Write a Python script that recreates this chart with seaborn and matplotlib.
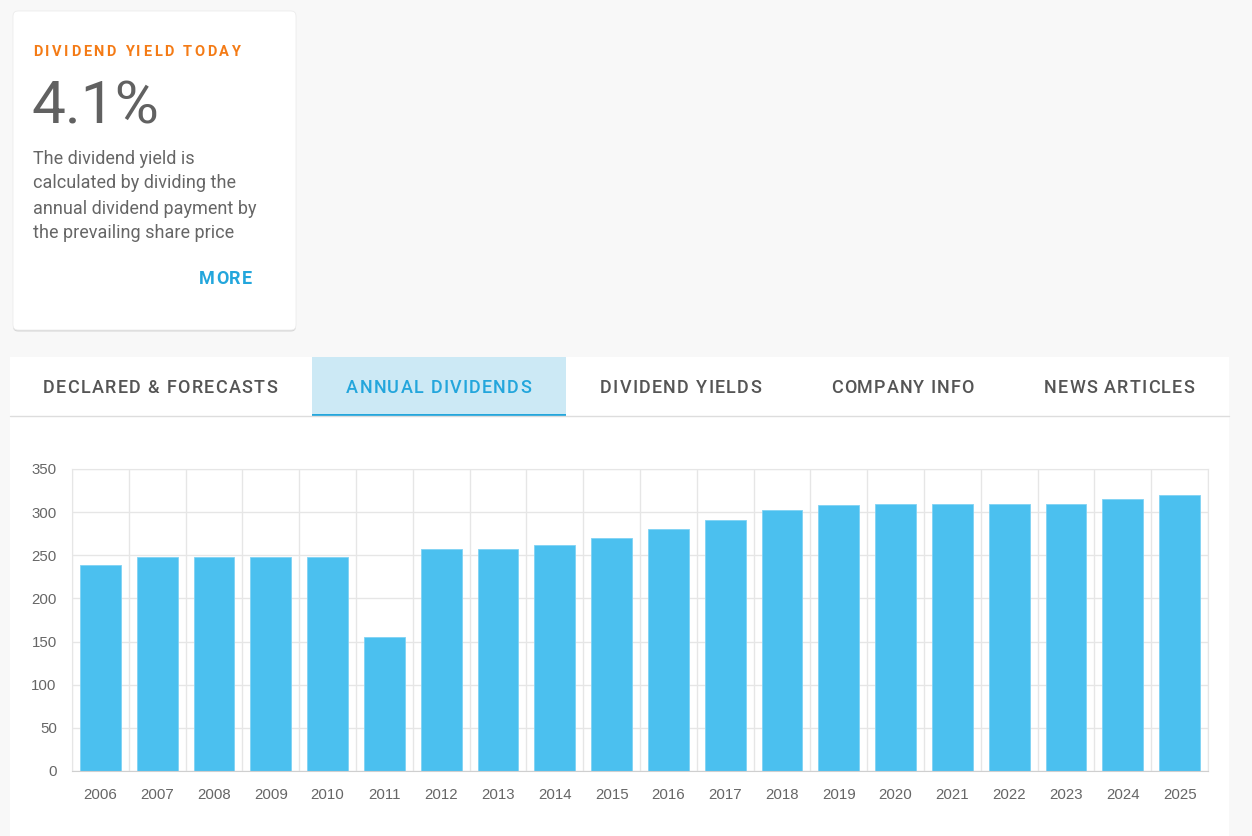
import numpy as np
import seaborn as sns
import matplotlib.pyplot as plt
import pandas as pd
from matplotlib.patches import FancyBboxPatch, Rectangle

# data
years = [str(y) for y in range(2006, 2026)]
dividends = [239, 248, 248, 248, 248, 155, 257, 257, 262, 270,
             280, 291, 302, 308, 310, 310, 310, 310, 315, 320]
y_ticks = [0, 50, 100, 150, 200, 250, 300, 350]

tab_labels = ['DECLARED & FORECASTS', 'ANNUAL DIVIDENDS', 'DIVIDEND YIELDS',
              'COMPANY INFO', 'NEWS ARTICLES']
card_title = 'DIVIDEND YIELD TODAY'
card_value = '4.1%'
card_lines = ['The dividend yield is', 'calculated by dividing the',
              'annual dividend payment by', 'the prevailing share price']

sns.set_style('white')
plt.rcParams['font.family'] = ['Liberation Sans', 'DejaVu Sans']

W, H = 1252, 836
fig = plt.figure(figsize=(W / 100, H / 100), dpi=100)
fig.patch.set_facecolor('#f8f8f8')

# page layer in pixel coords
bg = fig.add_axes([0, 0, 1, 1], zorder=0)
bg.set_xlim(0, W)
bg.set_ylim(H, 0)
bg.axis('off')
renderer = fig.canvas.get_renderer()


def spaced_text(s, x0, x1, y, size, color, weight='medium'):
    # text with letter spacing, stretched to span x0..x1
    kw = dict(fontsize=size, fontweight=weight, family=['Roboto', 'DejaVu Sans'])
    t = bg.text(0, 0, '|', **kw)
    bar_w = t.get_window_extent(renderer).width
    t.remove()
    adv = []
    for ch in s:
        t = bg.text(0, 0, ch + '|', **kw)
        adv.append(t.get_window_extent(renderer).width - bar_w)
        t.remove()
    t = bg.text(0, 0, s[-1], **kw)
    last_w = t.get_window_extent(renderer).width
    t.remove()
    natural = sum(adv[:-1]) + last_w
    gap = (x1 - x0 - natural) / (len(s) - 1)
    x = x0
    for ch, a in zip(s, adv):
        bg.text(x, y, ch, color=color, va='baseline', ha='left', **kw)
        x += a + gap


# card
bg.add_patch(FancyBboxPatch((13, 12.5), 283, 319, boxstyle='round,pad=0,rounding_size=5',
                            fc='#d6d6d6', ec='none'))
bg.add_patch(FancyBboxPatch((13, 11), 283, 319, boxstyle='round,pad=0,rounding_size=5',
                            fc='white', ec='#ececec', lw=0.6))
spaced_text(card_title, 33, 240, 56, 10.5, '#f47b16', weight='bold')
bg.text(31, 124, card_value, fontsize=43.5, fontweight='normal', color='#616161',
        family=['Roboto', 'DejaVu Sans'], va='baseline')
for i, line in enumerate(card_lines):
    bg.text(33, 163.5 + 25 * i, line, fontsize=13, color='#666666',
            family=['Roboto', 'DejaVu Sans'], va='baseline')
spaced_text('MORE', 199, 252, 284, 13, '#23a6dc', weight='bold')

# tab panel
bg.add_patch(Rectangle((10, 357), 1219, 480, fc='white', ec='none'))
bg.add_patch(Rectangle((312, 357), 254, 59, fc='#cce9f5', ec='none'))
bg.plot([10, 1229], [416, 416], color='#dddddd', lw=1)
bg.add_patch(Rectangle((312, 414), 254, 2.5, fc='#23a6dc', ec='none'))
tab_spans = [(43, 277), (346, 531), (600, 761), (831, 974), (1044, 1194)]
for i, (lab, (x0, x1)) in enumerate(zip(tab_labels, tab_spans)):
    col = '#23a6dc' if i == 1 else '#555555'
    spaced_text(lab, x0, x1, 393, 13, col, weight='medium')

# chart
ax = fig.add_axes([72 / W, 1 - 771 / H, 1136 / W, 302 / H], zorder=1)
ax.set_facecolor('white')
df = pd.DataFrame({'year': years, 'dividend': dividends})
sns.barplot(data=df, x='year', y='dividend', color='#4bc0ef', saturation=1,
            width=0.72, edgecolor='#7fd2f4', linewidth=0.6, ax=ax, zorder=2)
ax.set_xlim(-0.5, len(years) - 0.5)
ax.set_ylim(0, 350)
ax.set_yticks(y_ticks)
ax.set_xticks(np.arange(-0.5, len(years), 1), minor=True)
ax.set_xlabel('')
ax.set_ylabel('')
ax.set_axisbelow(True)
ax.grid(True, axis='y', which='major', color='#e6e6e6', lw=1)
ax.grid(True, axis='x', which='minor', color='#e6e6e6', lw=1)
ax.grid(False, axis='x', which='major')
for side in ['top', 'right', 'left']:
    ax.spines[side].set_color('#e6e6e6')
ax.spines['bottom'].set_color('#cfcfcf')
ax.tick_params(axis='x', which='major', length=0, pad=12, labelsize=10.8, labelcolor='#666666')
ax.tick_params(axis='x', which='minor', length=7, color='#e0e0e0', width=1)
ax.tick_params(axis='y', length=6, color='#e0e0e0', pad=5, labelsize=10.8, labelcolor='#666666')

fig.savefig('out.png', dpi=100, facecolor=fig.get_facecolor())
